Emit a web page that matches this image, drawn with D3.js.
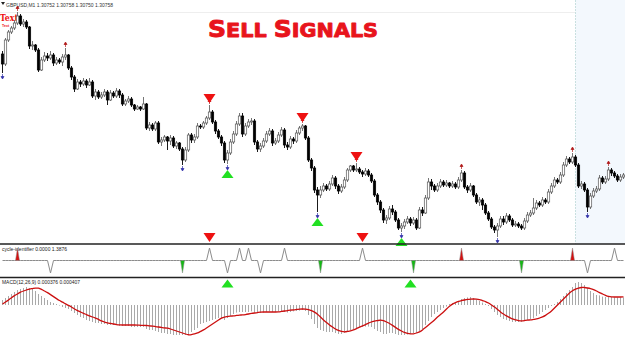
<!DOCTYPE html>
<html>
<head>
<meta charset="utf-8">
<script src="https://cdn.jsdelivr.net/npm/d3@7"></script>
<style>
  body { margin: 0; background: #fff; }
  svg { display: block; }
</style>
</head>
<body>
<script>
// GBPUSD M1 with cycle-identifier and MACD - "Sell Signals"
// prices are stored in points above 1.30000 (758 = 1.30758)
var firstOpen = 1000;
var closes = [
  980,1028,1044,1052,1062,1076,1060,1064,1054,1016,
  1018,1008,968,988,996,992,998,982,988,984,
  994,998,972,954,930,944,940,946,938,944,
  916,924,914,918,924,908,922,916,926,918,
  900,906,910,898,890,894,890,900,852,858,
  850,862,824,828,834,826,832,816,822,810,
  788,808,838,828,834,856,854,862,872,884,
  864,846,834,822,788,802,824,840,860,876,
  840,856,864,866,824,810,816,826,840,846,
  822,826,838,848,818,814,830,826,842,852,
  856,832,788,772,728,718,728,736,730,740,
  752,736,726,734,748,768,776,768,770,764,
  760,766,758,746,718,704,688,668,672,690,
  684,668,652,656,664,670,662,668,652,688,
  682,712,744,736,728,736,744,738,742,736,
  740,734,748,762,734,728,736,718,704,708,
  698,682,670,654,648,656,670,664,676,668,
  658,660,656,652,666,678,682,692,702,698,
  708,704,724,736,748,744,758,778,790,784,
  794,778,736,740,728,694,716,726,730,752,
  744,750,768,762,756,748,754,758
];
var highs = [
  1006,1032,1048,1056,1068,1084,1080,1070,1068,1056,
  1026,1020,1012,994,1004,1002,1006,1002,994,992,
  1000,1012,1000,976,958,950,948,952,950,952,
  948,930,928,924,930,928,928,926,932,930,
  922,910,916,914,900,898,896,914,902,864,
  862,866,866,834,838,836,838,836,826,824,
  814,814,842,842,840,862,860,866,876,898,
  888,868,850,838,826,808,830,846,866,882,
  882,862,870,872,870,828,822,832,846,852,
  850,832,844,854,852,824,836,834,848,856,
  860,858,836,792,776,734,736,742,740,746,
  758,756,740,740,754,772,778,778,782,774,
  768,772,770,762,750,722,708,692,678,696,
  698,688,672,662,670,676,674,674,672,694,
  694,718,752,750,740,742,750,748,748,744,
  746,744,754,768,766,738,742,738,722,714,
  712,702,686,674,658,662,676,676,682,680,
  672,666,664,660,672,684,688,712,708,706,
  714,712,730,742,754,752,764,784,796,794,
  802,798,782,746,744,732,722,732,736,758,
  756,756,774,772,766,760,760,762
];
var lows = [
  962,976,1024,1040,1048,1058,1056,1054,1050,1010,
  1008,1004,964,966,984,986,988,976,978,980,
  976,988,968,948,924,928,934,936,932,936,
  912,908,910,910,914,898,906,912,912,912,
  896,896,902,894,886,888,886,888,848,846,
  846,846,820,816,824,808,818,812,810,806,
  778,784,804,822,822,830,850,850,858,868,
  860,840,830,816,782,780,798,820,836,856,
  834,836,852,858,818,804,804,812,822,836,
  816,818,822,834,812,808,810,820,822,838,
  846,828,784,766,722,684,712,724,726,726,
  736,730,720,722,730,744,764,764,764,760,
  754,756,754,742,714,698,682,662,660,668,
  678,664,648,644,650,660,656,658,648,650,
  676,680,708,728,724,724,732,734,734,732,
  732,730,730,744,730,722,724,714,700,696,
  688,678,666,650,642,634,652,658,660,664,
  654,654,652,648,648,662,674,678,688,694,
  694,700,700,720,732,740,740,754,774,780,
  780,774,732,730,724,684,690,712,722,726,
  740,740,746,756,752,744,744,750
];

// MACD(12,26,9) in units of 0.00001
var macdMain = [
  25,35,45,55,65,75,80,85,90,85,
  80,70,55,45,35,25,15,10,5,-3,
  -10,-15,-20,-30,-40,-50,-60,-65,-75,-80,
  -85,-90,-90,-95,-95,-100,-100,-100,-100,-105,
  -105,-105,-105,-110,-110,-110,-110,-110,-120,-125,
  -125,-130,-135,-140,-140,-145,-145,-150,-150,-150,
  -150,-150,-145,-135,-125,-115,-95,-90,-85,-80,
  -75,-70,-65,-65,-75,-65,-55,-45,-38,-35,
  -35,-35,-35,-32,-38,-40,-40,-38,-35,-32,
  -35,-35,-32,-30,-35,-38,-35,-32,-30,-28,
  -25,-30,-50,-70,-95,-115,-125,-130,-135,-135,
  -135,-140,-145,-145,-140,-130,-125,-120,-115,-112,
  -110,-108,-108,-110,-120,-130,-135,-145,-145,-140,
  -140,-145,-150,-150,-150,-148,-145,-140,-140,-130,
  -120,-100,-80,-60,-45,-35,-25,-15,-8,5,
  10,15,20,30,35,38,40,35,28,20,
  12,5,-5,-20,-35,-50,-60,-70,-75,-80,
  -85,-85,-85,-85,-80,-75,-70,-65,-55,-45,
  -35,-25,-15,-5,5,15,30,45,60,75,
  90,110,115,110,100,85,70,60,50,48,
  42,40,42,40,38,38,38,37.6
];
var macdSignal = [
  5,15,25,37,47,55,65,70,75,80,
  82,85,85,78,70,62,52,42,32,22,
  15,5,-2,-10,-20,-28,-35,-42,-48,-55,
  -60,-65,-72,-80,-85,-90,-92,-95,-98,-100,
  -100,-100,-100,-100,-100,-100,-102,-102,-102,-105,
  -105,-108,-110,-112,-115,-115,-120,-125,-130,-135,
  -140,-145,-150,-148,-145,-140,-132,-125,-115,-105,
  -95,-85,-75,-65,-60,-58,-55,-55,-52,-50,
  -50,-48,-45,-42,-40,-38,-35,-35,-35,-35,
  -35,-35,-35,-32,-30,-28,-25,-25,-22,-20,
  -20,-20,-22,-28,-35,-45,-60,-75,-88,-100,
  -110,-120,-128,-132,-135,-132,-130,-125,-118,-110,
  -105,-98,-90,-85,-80,-78,-75,-78,-85,-92,
  -102,-112,-122,-130,-138,-142,-145,-145,-140,-135,
  -125,-112,-100,-88,-75,-60,-48,-35,-20,-5,
  5,12,18,22,25,28,30,30,30,28,
  22,18,10,0,-10,-22,-35,-45,-55,-62,
  -70,-75,-78,-80,-78,-75,-75,-72,-70,-65,
  -60,-52,-42,-30,-15,0,15,30,45,60,
  72,80,85,88,88,85,82,78,70,62,
  55,48,42,40,40,40,40,40.7
];

// cycle-identifier spikes (bar index, direction, colour)
var spikeBars   = [5, 16, 60, 69, 75, 79, 82, 86, 94, 106, 120, 137, 153, 173, 190, 195, 204];
var spikeDirs   = [1, -1, -1, 1, -1, 1, 1, -1, 1, -1, 1, -1, 1, -1, 1, -1, 1];
var spikeColors = ["red","gray","green","gray","gray","gray","gray","gray","gray","green","gray","green","red","green","red","gray","gray"];

// signal arrows (bar indexes)
var sellBars = [69, 100, 118];
var buyBars = [75, 105, 133];
var cycleSellBars = [69, 120];
var cycleBuyBars = [75, 136];
var fractalUp = [5, 21, 69, 100, 118, 153, 190, 202];
var fractalDown = [0, 60, 75, 105, 133, 165, 195];

var headerText = "GBPUSD,M1  1.30752 1.30758 1.30750 1.30758";
var cycleLabel = "cycle-identifier 0.0000 1.3876";
var macdLabel = "MACD(12,26,9) 0.000376 0.000407";

window.onload = setChart();

function setChart(){
  var width = 625, height = 339;
  var red = "#ee1111", green = "#22e022";

  var svg = d3.select("body").append("svg")
    .attr("width", width)
    .attr("height", height)
    .style("font-family", "'Liberation Sans', Arial, sans-serif");

  svg.append("rect").attr("width", width).attr("height", height).attr("fill", "#fff");

  // build bars (open = previous close on M1)
  var bars = closes.map(function(c, i){
    return {
      i: i,
      open: 1.3 + (i == 0 ? firstOpen : closes[i-1]) / 1e5,
      close: 1.3 + c / 1e5,
      high: 1.3 + highs[i] / 1e5,
      low: 1.3 + lows[i] / 1e5
    };
  });

  var x = d3.scaleLinear().domain([0, bars.length - 1]).range([2, 623]);
  var y = d3.scaleLinear().domain([1.30620, 1.31108]).range([244, 0]);
  var yCycle = d3.scaleLinear().domain([-1, 1]).range([273, 248]);
  var yMacd = d3.scaleLinear().domain([-0.0015, 0.0015]).range([335, 275]);

  // chart shift / future area
  svg.append("rect").attr("x", 575.5).attr("y", 0).attr("width", 50).attr("height", 244)
    .attr("fill", "#f3f8fd");
  svg.append("line").attr("x1", 575.5).attr("x2", 575.5).attr("y1", 0).attr("y2", 244)
    .attr("stroke", "#c9e0e0").attr("stroke-dasharray", "2,1");
  svg.append("line").attr("x1", 0).attr("x2", 575).attr("y1", 12.5).attr("y2", 12.5)
    .attr("stroke", "#eeeeee");

  // header
  svg.append("path").attr("d", "M1,2 L5,2 L3,5 Z").attr("fill", "#222");
  svg.append("text").attr("x", 6).attr("y", 6.5)
    .attr("font-size", 5.6).attr("fill", "#333")
    .attr("textLength", 107).attr("lengthAdjust", "spacingAndGlyphs")
    .text(headerText);

  // title
  var title = svg.append("text").attr("x", 208).attr("y", 37)
    .attr("font-family", "'DejaVu Sans', sans-serif")
    .attr("font-weight", "bold").attr("fill", "#e8141c")
    .attr("stroke", "#e8141c").attr("stroke-width", 0.9).attr("stroke-linejoin", "round")
    .attr("textLength", 170).attr("lengthAdjust", "spacingAndGlyphs");
  title.append("tspan").attr("font-size", 23).text("S");
  title.append("tspan").attr("font-size", 19).text("ELL ");
  title.append("tspan").attr("font-size", 23).text("S");
  title.append("tspan").attr("font-size", 19).text("IGNALS");

  // text objects top left
  svg.append("text").attr("x", 0).attr("y", 20.5).attr("font-size", 10)
    .attr("font-weight", "bold").attr("fill", red)
    .attr("font-family", "'DejaVu Serif', serif")
    .attr("textLength", 18).attr("lengthAdjust", "spacingAndGlyphs").text("Text");
  svg.append("text").attr("x", 2).attr("y", 26.5).attr("font-size", 3.6)
    .attr("font-weight", "bold").attr("fill", red).text("Text");

  var price = svg.append("g");

  // wicks
  price.selectAll(".wick").data(bars).enter().append("line")
    .attr("class", "wick")
    .attr("x1", function(d){ return x(d.i) + 0.5; })
    .attr("x2", function(d){ return x(d.i) + 0.5; })
    .attr("y1", function(d){ return y(d.high); })
    .attr("y2", function(d){ return y(d.low); })
    .attr("stroke", function(d){ return d.close >= d.open ? "#666" : "#000"; })
    .attr("stroke-width", 0.9);

  // bodies
  price.selectAll(".body").data(bars).enter().append("rect")
    .attr("class", "body")
    .attr("x", function(d){ return x(d.i) - 0.7; })
    .attr("width", 2.4)
    .attr("y", function(d){ return y(Math.max(d.open, d.close)); })
    .attr("height", function(d){ return Math.max(0.8, Math.abs(y(d.open) - y(d.close))); })
    .attr("fill", function(d){ return d.close >= d.open ? "#fff" : "#000"; })
    .attr("stroke", function(d){ return d.close >= d.open ? "#555" : "#000"; })
    .attr("stroke-width", 0.7);

  // small fractal arrows
  price.selectAll(".fup").data(fractalUp).enter().append("path")
    .attr("d", function(b){
      var cx = x(b) + 0.5, t = y(bars[b].high) - 6;
      return "M" + cx + "," + t + " l-1.5,2.5 h3 Z M" + cx + "," + (t + 2) + " v3";
    })
    .attr("fill", "#b01818").attr("stroke", "#b01818").attr("stroke-width", 0.7);
  price.selectAll(".fdn").data(fractalDown).enter().append("path")
    .attr("d", function(b){
      var cx = x(b) + 0.5, t = y(bars[b].low) + 6;
      return "M" + cx + "," + t + " l-1.5,-2.5 h3 Z M" + cx + "," + (t - 2) + " v-3";
    })
    .attr("fill", "#3333aa").attr("stroke", "#3333aa").attr("stroke-width", 0.7);

  // big sell / buy triangles
  function downTri(cx, tip){ return "M" + (cx - 6) + "," + (tip - 9) + " L" + (cx + 6) + "," + (tip - 9) + " L" + cx + "," + tip + " Z"; }
  function upTri(cx, tip){ return "M" + (cx - 6) + "," + (tip + 8) + " L" + (cx + 6) + "," + (tip + 8) + " L" + cx + "," + tip + " Z"; }

  svg.selectAll(".sell").data(sellBars).enter().append("path")
    .attr("d", function(b){ return downTri(x(b) + 0.5, y(bars[b].high) - 2); })
    .attr("fill", red);
  svg.selectAll(".buy").data(buyBars).enter().append("path")
    .attr("d", function(b){ return upTri(x(b) + 0.5, y(bars[b].low) + 6); })
    .attr("fill", green);
  svg.selectAll(".csell").data(cycleSellBars).enter().append("path")
    .attr("d", function(b){ return downTri(x(b) + 0.5, 242); })
    .attr("fill", red);
  svg.selectAll(".cbuy").data(cycleBuyBars).enter().append("path")
    .attr("d", function(b){ return upTri(x(b) + 0.5, 279.5); })
    .attr("fill", green);

  // ---- cycle identifier window ----
  svg.append("text").attr("x", 2).attr("y", 251).attr("font-size", 5).attr("fill", "#222")
    .attr("textLength", 65).attr("lengthAdjust", "spacingAndGlyphs").text(cycleLabel);

  var cycleVals = bars.map(function(d){
    var k = spikeBars.indexOf(d.i);
    return (k >= 0 && spikeColors[k] == "gray") ? spikeDirs[k] : 0;
  });
  var cycleLine = d3.line()
    .x(function(v, i){ return x(i) + 0.5; })
    .y(function(v){ return yCycle(v); });
  svg.append("path").attr("d", cycleLine(cycleVals))
    .attr("fill", "none").attr("stroke", "#8c8c8c").attr("stroke-width", 1);

  svg.selectAll(".spike").data(spikeBars.filter(function(b, k){ return spikeColors[k] != "gray"; }))
    .enter().append("path")
    .attr("d", function(b){
      var k = spikeBars.indexOf(b), cx = x(b) + 0.5;
      return "M" + (cx - 2) + "," + yCycle(0) + " L" + cx + "," + yCycle(spikeDirs[k]) + " L" + (cx + 2) + "," + yCycle(0) + " Z";
    })
    .attr("fill", function(b){ return spikeColors[spikeBars.indexOf(b)] == "red" ? "#d41010" : "#14b814"; })
    .attr("stroke", "#8c8c8c").attr("stroke-width", 0.5);

  // ---- MACD window ----
  svg.selectAll(".hist").data(macdMain).enter().append("line")
    .attr("x1", function(v, i){ return x(i) + 0.5; })
    .attr("x2", function(v, i){ return x(i) + 0.5; })
    .attr("y1", yMacd(0))
    .attr("y2", function(v){ return yMacd(v / 1e5); })
    .attr("stroke", "#a9a9a9").attr("stroke-width", 1);

  var sigLine = d3.line()
    .x(function(v, i){ return x(i) + 0.5; })
    .y(function(v){ return yMacd(v / 1e5); })
    .curve(d3.curveBasis);
  svg.append("path").attr("d", sigLine(macdSignal))
    .attr("fill", "none").attr("stroke", "#cc1010").attr("stroke-width", 1.3);

  svg.append("text").attr("x", 2).attr("y", 284).attr("font-size", 5).attr("fill", "#222")
    .attr("textLength", 78).attr("lengthAdjust", "spacingAndGlyphs").text(macdLabel);

  // window separators
  svg.selectAll(".sep").data([244, 277.5]).enter().append("line")
    .attr("x1", 0).attr("x2", width)
    .attr("y1", function(d){ return d; }).attr("y2", function(d){ return d; })
    .attr("stroke", "#222").attr("stroke-width", 1.3);
};
</script>
</body>
</html>
